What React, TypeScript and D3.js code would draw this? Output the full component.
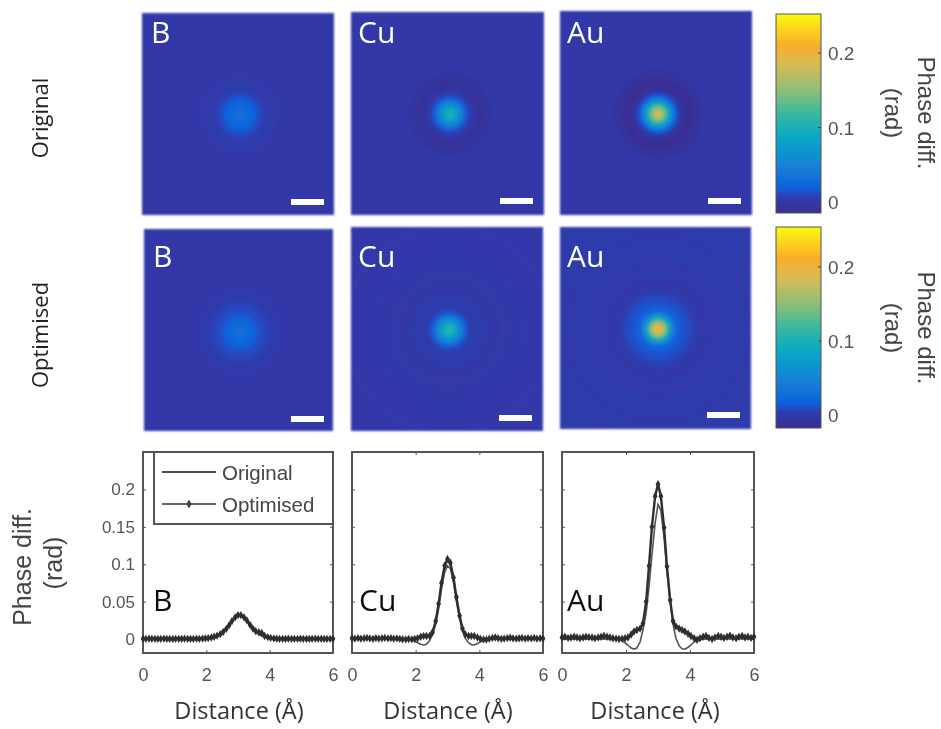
import { useEffect, useRef } from 'react'
import * as d3 from 'd3'

// radial / line profile samples, distance in angstrom
const DISTANCE = [
	0, 0.09, 0.19, 0.28, 0.38, 0.47, 0.56, 0.66, 0.75, 0.84, 0.94, 1.03, 1.13,
	1.22, 1.31, 1.41, 1.5, 1.59, 1.69, 1.78, 1.88, 1.97, 2.06, 2.16, 2.25, 2.34,
	2.44, 2.53, 2.63, 2.72, 2.81, 2.91, 3.0, 3.09, 3.19, 3.28, 3.38, 3.47, 3.56,
	3.66, 3.75, 3.84, 3.94, 4.03, 4.13, 4.22, 4.31, 4.41, 4.5, 4.59, 4.69, 4.78,
	4.88, 4.97, 5.06, 5.16, 5.25, 5.34, 5.44, 5.53, 5.63, 5.72, 5.81, 5.91, 6.0,
]
const CENTRE_INDEX = 32

const B_ORIGINAL = [
	0, 0, 0, 0, 0, 0, 0, 0, 0, 0, 0, 0, 0,
	0, 0, 0, 0, 0, 0, 0, 0.0003, 0.0005, 0.001, 0.0015, 0.0025, 0.004,
	0.006, 0.009, 0.013, 0.018, 0.023, 0.028, 0.031, 0.031, 0.028, 0.024, 0.018, 0.013, 0.009,
	0.006, 0.004, 0.0025, 0.0015, 0.001, 0.0005, 0.0003, 0, 0, 0, 0, 0, 0,
	0, 0, 0, 0, 0, 0, 0, 0, 0, 0, 0, 0, 0,
]
const B_OPTIMISED = [
	0.0003, 0.0002, 0.0004, 0.0002, 0.0003, 0.0001, 0.0003, 0.0004, 0.0002, 0.0003, 0.0001, 0.0003, 0.0002,
	0.0003, 0.0004, 0.0002, 0.0003, 0.0002, 0.0004, 0.0003, 0.0006, 0.0009, 0.0013, 0.002, 0.003, 0.0045,
	0.0065, 0.0095, 0.0135, 0.0185, 0.024, 0.029, 0.032, 0.032, 0.029, 0.025, 0.019, 0.014, 0.0105,
	0.009, 0.008, 0.004, 0.0025, 0.0015, 0.0008, 0.0005, 0.0003, 0.0002, 0.0003, 0.0004, 0.0002, 0.0003,
	0.0002, 0.0004, 0.0003, 0.0001, 0.0003, 0.0002, 0.0004, 0.0003, 0.0002, 0.0003, 0.0001, 0.0003, 0.0002,
]
const CU_ORIGINAL = [
	0, 0, 0, 0, 0, 0, 0, 0, 0, 0, 0, 0, 0,
	0, 0, 0, 0, 0, -0.0002, -0.0005, -0.001, -0.003, -0.005, -0.007, -0.008, -0.007,
	-0.002, 0.006, 0.02, 0.04, 0.066, 0.089, 0.098, 0.094, 0.075, 0.05, 0.027, 0.011, 0.001,
	-0.005, -0.0075, -0.008, -0.006, -0.004, -0.002, -0.001, -0.0005, -0.0002, 0, 0, 0, 0,
	0, 0, 0, 0, 0, 0, 0, 0, 0, 0, 0, 0, 0,
]
const CU_OPTIMISED = [
	0.001, 0.0005, 0.0012, 0.0004, 0.001, 0.0015, 0.0008, 0.0003, 0.0012, 0.0006, 0.001, 0.0015, 0.0008,
	0.0012, 0.0004, 0.0008, 0.0002, -0.0003, -0.0005, 0, -0.0004, 0.0002, 0.001, 0.003, 0.004, 0.004,
	0.004, 0.009, 0.024, 0.047, 0.075, 0.098, 0.107, 0.102, 0.082, 0.056, 0.031, 0.014, 0.006,
	0.004, 0.004, 0.004, 0.002, 0.0005, -0.0005, -0.0008, 0.0005, 0.0015, 0.002, 0.001, 0.0003, 0.0006,
	0.0012, 0.0018, 0.0008, 0.0004, 0.001, 0.0014, 0.0006, 0.0012, 0.0008, 0.0015, 0.0004, 0.001, 0.0006,
]
const AU_ORIGINAL = [
	0, 0, 0, 0, 0, 0, 0, 0, 0, 0, 0, 0, 0,
	0, 0, 0, 0, -0.0003, -0.0005, -0.001, -0.002, -0.005, -0.008, -0.012, -0.0135, -0.012,
	-0.004, 0.012, 0.035, 0.07, 0.112, 0.155, 0.18, 0.172, 0.135, 0.09, 0.05, 0.02, 0.001,
	-0.009, -0.013, -0.0135, -0.011, -0.008, -0.004, -0.002, -0.001, -0.0003, 0, 0, 0, 0,
	0, 0, 0, 0, 0, 0, 0, 0, 0, 0, 0, 0, 0,
]
const AU_OPTIMISED = [
	0.002, 0.003, 0.0015, 0.002, 0.003, 0.002, 0.001, 0.002, 0.003, 0.0025, 0.002, 0.001, 0.002,
	0.003, 0.004, 0.003, 0.002, 0.001, 0.0005, 0, 0.0005, 0.001, 0.002, 0.006, 0.01, 0.012,
	0.014, 0.021, 0.05, 0.098, 0.15, 0.191, 0.207, 0.191, 0.149, 0.097, 0.052, 0.024, 0.017,
	0.014, 0.012, 0.01, 0.007, 0.004, 0.001, -0.001, 0.001, 0.003, 0.004, 0.0015, 0, 0.002,
	0.004, 0.003, 0.0015, 0.003, 0.0045, 0.002, 0.001, 0.003, 0.004, 0.002, 0.003, 0.0015, 0.003,
]

const ELEMENTS = ['B', 'Cu', 'Au']
const ORIGINAL_SERIES = [B_ORIGINAL, CU_ORIGINAL, AU_ORIGINAL]
const OPTIMISED_SERIES = [B_OPTIMISED, CU_OPTIMISED, AU_OPTIMISED]

const COLOR_VALUES = [-0.015, 0, 0.003, 0.007, 0.009, 0.018, 0.052, 0.085, 0.119, 0.152, 0.185, 0.21, 0.23, 0.2523]
const COLOR_HEX = ['#3a2d92', '#3039a8', '#2f3aaa', '#2e3dae', '#2845bc', '#1060dc', '#1485d4', '#06a7c6', '#38b99e', '#92bf73', '#d9ba56', '#f8ae2a', '#fcd020', '#f9fb0e']

const X_TICKS = [0, 2, 4, 6]
const Y_TICKS = [0, 0.05, 0.1, 0.15, 0.2]
const COLORBAR_TICKS = [0, 0.1, 0.2]
const LEGEND_LABELS = ['Original', 'Optimised']

// layout, in page pixels
const IMAGE_BOXES = [
	[{ x: 142, y: 13, w: 192, h: 202, cx: 240, cy: 115 }, { x: 351, y: 12, w: 193, h: 203, cx: 450, cy: 114 }, { x: 560, y: 11, w: 192, h: 204, cx: 658, cy: 114 }],
	[{ x: 144, y: 229, w: 189, h: 202, cx: 240, cy: 332 }, { x: 351, y: 227, w: 192, h: 204, cx: 449, cy: 330 }, { x: 560, y: 227, w: 191, h: 202, cx: 658, cy: 329 }],
]
const SCALE_BARS = [
	[{ x: 291, y: 199 }, { x: 500, y: 198 }, { x: 708, y: 198 }],
	[{ x: 291, y: 416 }, { x: 499, y: 415 }, { x: 707, y: 412 }],
]
const IMAGE_LABEL_X = [[151, 358, 567], [153, 358, 567]]
const IMAGE_LABEL_Y = [43, 267]
const PLOT_BOXES = [
	{ x: 143, w: 190 },
	{ x: 352, w: 191 },
	{ x: 562, w: 192 },
]
const PLOT_LABEL_X = [153, 359, 567]
const X_TITLE_CENTRES = [239, 448, 655]
const PLOT_TOP = 452
const PLOT_BOTTOM = 653
const PX_PER_ANGSTROM = 38
const SCALE_BAR_LENGTH = 33
const SANS = '"Liberation Sans", Arial, sans-serif'
const LABEL = '"Open Sans", sans-serif'
const GREY = '#555'

export default function App() {
	const ref = useRef<SVGSVGElement>(null)

	useEffect(() => {
		const svg = d3.select(ref.current)
		svg.selectAll('*').remove()

		const color = d3.scaleLinear<string>().domain(COLOR_VALUES).range(COLOR_HEX).clamp(true)
		const defs = svg.append('defs')
		defs.append('filter').attr('id', 'soft').append('feGaussianBlur').attr('stdDeviation', 0.45)
		defs.append('filter').attr('id', 'softer').append('feGaussianBlur').attr('stdDeviation', 0.8)
		const root = svg.append('g').attr('filter', 'url(#soft)')

		const addText = (parent, x, y, text, opts: any = {}) => {
			const t = parent
				.append('text')
				.attr('x', x)
				.attr('y', y)
				.text(text)
				.attr('font-family', opts.family || SANS)
				.attr('font-size', opts.size || 17)
				.attr('fill', opts.fill || GREY)
				.attr('text-anchor', opts.anchor || 'middle')
			if (opts.rotate) t.attr('transform', `rotate(${opts.rotate} ${x} ${y})`)
			return t
		}

		// image panels: radial gradient built from the profile right of the peak
		const rSteps = DISTANCE.slice(CENTRE_INDEX).map((d) => d - DISTANCE[CENTRE_INDEX])
		const rMax = d3.max(rSteps)
		const rows = [ORIGINAL_SERIES, OPTIMISED_SERIES]
		rows.forEach((series, row) => {
			series.forEach((values, col) => {
				const box = IMAGE_BOXES[row][col]
				const id = `profile-${row}-${col}`
				const grad = defs
					.append('radialGradient')
					.attr('id', id)
					.attr('gradientUnits', 'userSpaceOnUse')
					.attr('cx', box.cx)
					.attr('cy', box.cy)
					.attr('r', rMax * PX_PER_ANGSTROM)
				rSteps.forEach((r, i) => {
					grad
						.append('stop')
						.attr('offset', r / rMax)
						.attr('stop-color', color(values[CENTRE_INDEX + i]))
				})
				root
					.append('rect')
					.attr('x', box.x)
					.attr('y', box.y)
					.attr('width', box.w)
					.attr('height', box.h)
					.attr('fill', `url(#${id})`)
					.attr('filter', 'url(#softer)')
				addText(root, IMAGE_LABEL_X[row][col], IMAGE_LABEL_Y[row], ELEMENTS[col], { family: LABEL, size: 30, fill: '#fff', anchor: 'start' })
				const bar = SCALE_BARS[row][col]
				root
					.append('rect')
					.attr('x', bar.x)
					.attr('y', bar.y)
					.attr('width', SCALE_BAR_LENGTH)
					.attr('height', 6)
					.attr('fill', '#fff')
			})
		})

		// colourbars
		const gradBar = defs
			.append('linearGradient')
			.attr('id', 'parula')
			.attr('x1', 0)
			.attr('x2', 0)
			.attr('y1', 1)
			.attr('y2', 0)
		COLOR_VALUES.forEach((v, i) => {
			gradBar
				.append('stop')
				.attr('offset', (v - COLOR_VALUES[0]) / (COLOR_VALUES[COLOR_VALUES.length - 1] - COLOR_VALUES[0]))
				.attr('stop-color', COLOR_HEX[i])
		})
		const barBoxes = [
			{ top: 14, bottom: 213, zeroY: 202, topTickY: 53, labelC: 113 },
			{ top: 227, bottom: 428, zeroY: 415, topTickY: 267, labelC: 328 },
		]
		barBoxes.forEach((b) => {
			const y = d3.scaleLinear().domain([0, 0.2]).range([b.zeroY, b.topTickY])
			root
				.append('rect')
				.attr('x', 776)
				.attr('y', b.top)
				.attr('width', 45)
				.attr('height', b.bottom - b.top)
				.attr('fill', 'url(#parula)')
				.attr('stroke', '#555')
				.attr('stroke-width', 1)
			COLORBAR_TICKS.forEach((t) => {
				root
					.append('line')
					.attr('x1', 818)
					.attr('x2', 821)
					.attr('y1', y(t))
					.attr('y2', y(t))
					.attr('stroke', '#444')
				addText(root, 828, y(t) + 7, String(t), { size: 19, anchor: 'start' })
			})
			addText(root, 885, b.labelC, '(rad)', { size: 24, rotate: 90, fill: '#444' })
			addText(root, 918, b.labelC, 'Phase diff.', { size: 24, rotate: 90, fill: '#444' })
		})

		// row titles
		addText(root, 48, 118, 'Original', { family: LABEL, size: 22, rotate: -90, fill: '#222' })
		addText(root, 48, 335, 'Optimised', { family: LABEL, size: 22, rotate: -90, fill: '#222' })

		// line plots
		const yScale = d3.scaleLinear().domain([-0.0187, 0.25]).range([PLOT_BOTTOM, PLOT_TOP])
		PLOT_BOXES.forEach((p, col) => {
			const xScale = d3.scaleLinear().domain([0, 6]).range([p.x, p.x + p.w])
			const g = root.append('g')
			g.append('rect')
				.attr('x', p.x)
				.attr('y', PLOT_TOP)
				.attr('width', p.w)
				.attr('height', PLOT_BOTTOM - PLOT_TOP)
				.attr('fill', '#fff')
				.attr('stroke', GREY)
				.attr('stroke-width', 2)

			const bottom = g
				.append('g')
				.attr('transform', `translate(0,${PLOT_BOTTOM})`)
				.call(d3.axisBottom(xScale).tickValues(X_TICKS).tickSizeInner(-3).tickSizeOuter(0).tickPadding(15).tickFormat((d) => String(d)))
			bottom.select('.domain').remove()
			bottom.selectAll('.tick line').attr('stroke', GREY)
			bottom
				.selectAll('.tick text')
				.attr('font-family', SANS)
				.attr('font-size', 18)
				.attr('fill', GREY)
			g.append('g')
				.attr('transform', `translate(0,${PLOT_TOP})`)
				.call(d3.axisTop(xScale).tickValues(X_TICKS).tickSizeInner(-3).tickSizeOuter(0).tickFormat(() => ''))
				.call((a) => a.select('.domain').remove())
				.call((a) => a.selectAll('.tick line').attr('stroke', GREY))

			const left = g
				.append('g')
				.attr('transform', `translate(${p.x},0)`)
				.call(d3.axisLeft(yScale).tickValues(Y_TICKS).tickSizeInner(-3).tickSizeOuter(0).tickPadding(8).tickFormat(col === 0 ? (d) => String(d) : () => ''))
			left.select('.domain').remove()
			left.selectAll('.tick line').attr('stroke', GREY)
			left
				.selectAll('.tick text')
				.attr('font-family', SANS)
				.attr('font-size', 17)
				.attr('fill', GREY)
			g.append('g')
				.attr('transform', `translate(${p.x + p.w},0)`)
				.call(d3.axisRight(yScale).tickValues(Y_TICKS).tickSizeInner(-3).tickSizeOuter(0).tickFormat(() => ''))
				.call((a) => a.select('.domain').remove())
				.call((a) => a.selectAll('.tick line').attr('stroke', GREY))

			const line = d3
				.line<number>()
				.x((_, i) => xScale(DISTANCE[i]))
				.y((d) => yScale(d))
			g.append('path')
				.attr('d', line(ORIGINAL_SERIES[col]))
				.attr('fill', 'none')
				.attr('stroke', '#555')
				.attr('stroke-width', 1.6)
			g.append('path')
				.attr('d', line(OPTIMISED_SERIES[col]))
				.attr('fill', 'none')
				.attr('stroke', '#2e2e2e')
				.attr('stroke-width', 2.4)
			g.selectAll('path.marker')
				.data(OPTIMISED_SERIES[col])
				.join('path')
				.attr('class', 'marker')
				.attr('d', d3.symbol(d3.symbolDiamond, 20))
				.attr('transform', (d, i) => `translate(${xScale(DISTANCE[i])},${yScale(d)})`)
				.attr('fill', '#2e2e2e')

			addText(g, PLOT_LABEL_X[col], 611, ELEMENTS[col], { family: LABEL, size: 30, fill: '#111', anchor: 'start' })
			addText(g, X_TITLE_CENTRES[col], 719, 'Distance (Å)', { family: LABEL, size: 23.5, fill: '#333' })
		})

		// y title
		addText(root, 31, 567, 'Phase diff.', { size: 25, rotate: -90, fill: '#444' })
		addText(root, 62, 563, '(rad)', { size: 25, rotate: -90, fill: '#444' })

		// legend
		const legend = root.append('g')
		legend
			.append('rect')
			.attr('x', 154)
			.attr('y', 452)
			.attr('width', 179)
			.attr('height', 72)
			.attr('fill', '#fff')
			.attr('stroke', GREY)
			.attr('stroke-width', 2)
		LEGEND_LABELS.forEach((label, i) => {
			const y = 472 + i * 32
			legend
				.append('line')
				.attr('x1', 162)
				.attr('x2', 216)
				.attr('y1', y)
				.attr('y2', y)
				.attr('stroke', i === 0 ? '#111' : '#666')
				.attr('stroke-width', i === 0 ? 1.4 : 1.8)
			if (i === 1) {
				legend
					.append('path')
					.attr('d', d3.symbol(d3.symbolDiamond, 24))
					.attr('transform', `translate(189,${y})`)
					.attr('fill', '#444')
			}
			addText(legend, 222, y + 8, label, { size: 20.5, anchor: 'start', fill: '#444' })
		})
	}, [])

	return <svg ref={ref} width={941} height={729} style={{ position: 'absolute', left: 0, top: 0, background: '#fff' }}></svg>
}
